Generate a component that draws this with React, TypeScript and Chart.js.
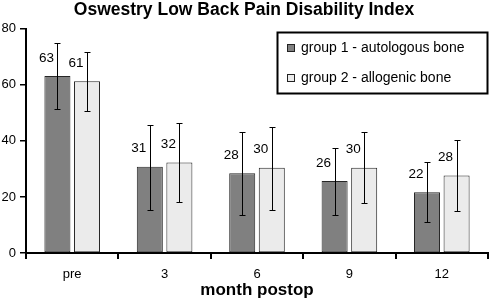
import React, { useEffect, useRef } from "react";
import { Chart, registerables } from "chart.js";

Chart.register(...registerables);

const chartTitle = "Oswestry Low Back Pain Disability Index";
const xAxisTitle = "month postop";
const categories = ["pre", "3", "6", "9", "12"];
const seriesNames = ["group 1 - autologous bone", "group 2 - allogenic bone"];
const group1Mean = [63.1, 30.8, 28.4, 25.7, 21.7];
const group2Mean = [61.3, 32.3, 30.4, 30.4, 27.6];
const group1Upper = [74.8, 45.8, 43.0, 37.5, 32.3];
const group1Lower = [51.3, 15.4, 13.7, 13.7, 11.0];
const group2Upper = [71.6, 46.2, 45.0, 43.0, 40.3];
const group2Lower = [50.6, 18.1, 15.4, 17.7, 14.9];
const yMin = 0;
const yMax = 80;
const yStep = 20;

const FONT = "'Liberation Sans', Arial, sans-serif";

const errorBarPlugin = {
  id: "errorBars",
  afterDatasetsDraw(chart: any) {
    const ctx = chart.ctx;
    const y = chart.scales.y;
    chart.data.datasets.forEach((ds: any, i: number) => {
      const meta = chart.getDatasetMeta(i);
      meta.data.forEach((bar: any, j: number) => {
        const hi = Math.round(y.getPixelForValue(ds.errUpper[j])) + 0.5;
        const lo = Math.round(y.getPixelForValue(ds.errLower[j])) + 0.5;
        const x = Math.round(bar.x) + 0.5;
        ctx.save();
        ctx.strokeStyle = "#000";
        ctx.lineWidth = 1;
        ctx.beginPath();
        ctx.moveTo(x, hi);
        ctx.lineTo(x, lo);
        ctx.moveTo(x - 3, hi);
        ctx.lineTo(x + 3, hi);
        ctx.moveTo(x - 3, lo);
        ctx.lineTo(x + 3, lo);
        ctx.stroke();
        ctx.restore();
      });
    });
  },
};

const valueLabelPlugin = {
  id: "valueLabels",
  afterDatasetsDraw(chart: any) {
    const ctx = chart.ctx;
    chart.data.datasets.forEach((ds: any, i: number) => {
      const meta = chart.getDatasetMeta(i);
      meta.data.forEach((bar: any, j: number) => {
        ctx.save();
        ctx.fillStyle = "#000";
        ctx.font = `13.5px ${FONT}`;
        ctx.textAlign = "right";
        ctx.textBaseline = "middle";
        ctx.fillText(String(Math.round(ds.data[j])), bar.x - 3.5, bar.y - 18);
        ctx.restore();
      });
    });
  },
};

const boxLegendPlugin = {
  id: "boxLegend",
  afterDraw(chart: any) {
    const ctx = chart.ctx;
    const left = 277.5;
    const top = 32.5;
    const right = 487.5;
    const bottom = 93.5;
    ctx.save();
    ctx.fillStyle = "#fff";
    ctx.fillRect(left, top, right - left, bottom - top);
    ctx.strokeStyle = "#000";
    ctx.lineWidth = 2;
    ctx.strokeRect(left, top, right - left, bottom - top);
    chart.data.datasets.forEach((ds: any, i: number) => {
      const cy = 48 + i * 30;
      ctx.fillStyle = ds.backgroundColor;
      ctx.fillRect(287, cy - 4, 8, 8);
      ctx.strokeStyle = "#222";
      ctx.lineWidth = 1;
      ctx.strokeRect(287.5, cy - 3.5, 7, 7);
      ctx.fillStyle = "#000";
      ctx.font = `14px ${FONT}`;
      ctx.textAlign = "left";
      ctx.textBaseline = "middle";
      ctx.fillText(ds.label, 301, cy);
    });
    ctx.restore();
  },
};

export default function App() {
  const canvasRef = useRef<HTMLCanvasElement | null>(null);

  useEffect(() => {
    const canvas = canvasRef.current;
    if (!canvas) return;
    const chart = new Chart(canvas, {
      type: "bar",
      data: {
        labels: categories,
        datasets: [
          {
            label: seriesNames[0],
            data: group1Mean,
            errUpper: group1Upper,
            errLower: group1Lower,
            backgroundColor: "#808080",
            borderColor: "#262626",
            borderWidth: 1,
            borderSkipped: false,
            barPercentage: 0.88,
            categoryPercentage: 0.64,
          } as any,
          {
            label: seriesNames[1],
            data: group2Mean,
            errUpper: group2Upper,
            errLower: group2Lower,
            backgroundColor: "#ebebeb",
            borderColor: "#262626",
            borderWidth: 1,
            borderSkipped: false,
            barPercentage: 0.88,
            categoryPercentage: 0.64,
          } as any,
        ],
      },
      options: {
        animation: false,
        responsive: true,
        maintainAspectRatio: false,
        layout: { padding: { left: 0, right: 2, top: 0, bottom: 0 } },
        plugins: {
          legend: { display: false },
          tooltip: { enabled: false },
          title: {
            display: true,
            text: chartTitle,
            color: "#000",
            font: { family: FONT, size: 17.5, weight: "bold" },
            padding: { top: 0, bottom: 7.7 },
          },
        },
        scales: {
          x: {
            border: { display: true, color: "#000", width: 2 },
            grid: {
              display: true,
              drawOnChartArea: false,
              drawTicks: true,
              tickLength: 6,
              offset: true,
              color: "#000",
              lineWidth: 2,
            },
            ticks: {
              color: "#000",
              font: { family: FONT, size: 13 },
              padding: 8,
              maxRotation: 0,
            },
            title: {
              display: true,
              text: xAxisTitle,
              color: "#000",
              font: { family: FONT, size: 17, weight: "bold" },
              padding: { top: 0, bottom: 0 },
            },
            afterFit(scale: any) {
              scale.height = 48;
            },
          },
          y: {
            min: yMin,
            max: yMax,
            border: { display: true, color: "#000", width: 2 },
            grid: {
              display: true,
              drawOnChartArea: false,
              drawTicks: true,
              tickLength: 6,
              color: "#000",
              lineWidth: 1.5,
            },
            ticks: {
              stepSize: yStep,
              color: "#000",
              font: { family: FONT, size: 13 },
              padding: 4,
            },
            afterFit(scale: any) {
              scale.width = 26;
            },
          },
        },
      },
      plugins: [errorBarPlugin, valueLabelPlugin, boxLegendPlugin],
    });
    return () => chart.destroy();
  }, []);

  return (
    <div style={{ position: "fixed", left: 0, top: 0, width: 490, height: 301, background: "#fff" }}>
      <canvas ref={canvasRef} />
    </div>
  );
}
